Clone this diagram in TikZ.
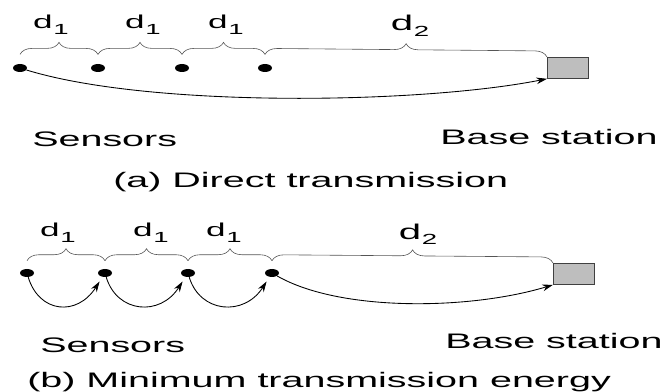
\documentclass[tikz,border=0pt]{standalone}
\usepackage{fontspec}
\setmainfont{Liberation Sans}
\usepackage{graphicx}
\usetikzlibrary{arrows.meta,positioning,shapes.geometric,decorations.pathreplacing}
\usepackage{xcolor}
\definecolor{cbox}{HTML}{BEBEBE}
\definecolor{cbrace}{HTML}{555555}
\newcommand{\wide}[1]{\scalebox{1.88}[1]{#1}}
\newcommand{\dlab}[1]{\wide{d\kern0.3pt\raisebox{-4.5pt}{\fontsize{11}{11}\selectfont #1}}}

\tikzset{
  sensor/.style={ellipse, fill=black, inner sep=0pt, minimum width=10.5pt, minimum height=6pt},
  station/.style={draw=black!75, fill=cbox, inner sep=0pt, line width=0.6pt,
                  minimum width=30.75pt, minimum height=15.75pt},
  span/.style={decorate, decoration={brace, amplitude=9pt}, draw=cbrace, line width=0.45pt},
  link/.style={-{Stealth[length=8pt,width=5pt]}, line width=0.65pt},
  caption/.style={inner sep=0pt, anchor=base west, font=\fontsize{15.75}{18}\selectfont},
  dlabel/.style={inner sep=0pt, anchor=base, font=\fontsize{14}{16}\selectfont}
}

\begin{document}
\begin{tikzpicture}[x=0.75pt, y=-0.75pt]
  \useasboundingbox (0,0) rectangle (668,392);

  % (a) direct transmission
  \node[sensor] (s1) at (20,68) {};
  \node[sensor] (s2) at (98,68) {};
  \node[sensor] (s3) at (182,68) {};
  \node[sensor] (s4) at (265,68) {};
  \node[station, anchor=north west] (bs1) at (547,57) {};

  \draw[span] ([yshift=7pt]s1.north) -- ([yshift=7pt]s2.north);
  \draw[span] ([yshift=7pt]s2.north) -- ([yshift=7pt]s3.north);
  \draw[span] ([yshift=7pt]s3.north) -- ([yshift=7pt]s4.north);
  \draw[span] ([yshift=7pt]s4.north) -- (bs1.north west);

  \node[dlabel] (la1) at (51,29) {\dlab{1}};
  \node[dlabel] (la2) at (143,29) {\dlab{1}};
  \node[dlabel] (la3) at (226,29) {\dlab{1}};
  \node[dlabel, font=\fontsize{16}{18}\selectfont] (la4) at (410,31) {\dlab{2}};

  \draw[link] (s1) .. controls (150,108) and (420,104) .. (bs1.south west);

  \node[caption] (sa) at (32,147) {\wide{Sensors}};
  \node[caption] (ba) at (440,145) {\wide{Base station}};
  \node[caption] (ca) at (113,188) {\wide{(a) Direct transmission}};

  % (b) minimum transmission energy
  \node[sensor] (t1) at (27,273) {};
  \node[sensor] (t2) at (105,273) {};
  \node[sensor] (t3) at (188,273) {};
  \node[sensor] (t4) at (272,273) {};
  \node[station, anchor=north west] (bs2) at (553,263) {};

  \draw[span] ([yshift=6pt]t1.north) -- ([yshift=6pt]t2.north);
  \draw[span] ([yshift=6pt]t2.north) -- ([yshift=6pt]t3.north);
  \draw[span] ([yshift=6pt]t3.north) -- ([yshift=6pt]t4.north);
  \draw[span] ([yshift=6pt]t4.north) -- (bs2.north west);

  \node[dlabel] (lb1) at (58,237) {\dlab{1}};
  \node[dlabel] (lb2) at (151,237) {\dlab{1}};
  \node[dlabel] (lb3) at (224,237) {\dlab{1}};
  \node[dlabel, font=\fontsize{16}{18}\selectfont] (lb4) at (418,239) {\dlab{2}};

  \foreach \a/\b in {t1/t2, t2/t3, t3/t4}
    \draw[link, shorten >=4pt] (\a) .. controls +(12,40) and +(-28,44) .. (\b);
  \draw[link] (t4) .. controls (340,312) and (470,310) .. (bs2.south west);

  \node[caption] (sb) at (40,352) {\wide{Sensors}};
  \node[caption] (bb) at (445,348) {\wide{Base station}};
  \node[caption] (cb) at (27,387) {\wide{(b) Minimum transmission energy}};
\end{tikzpicture}
\end{document}
